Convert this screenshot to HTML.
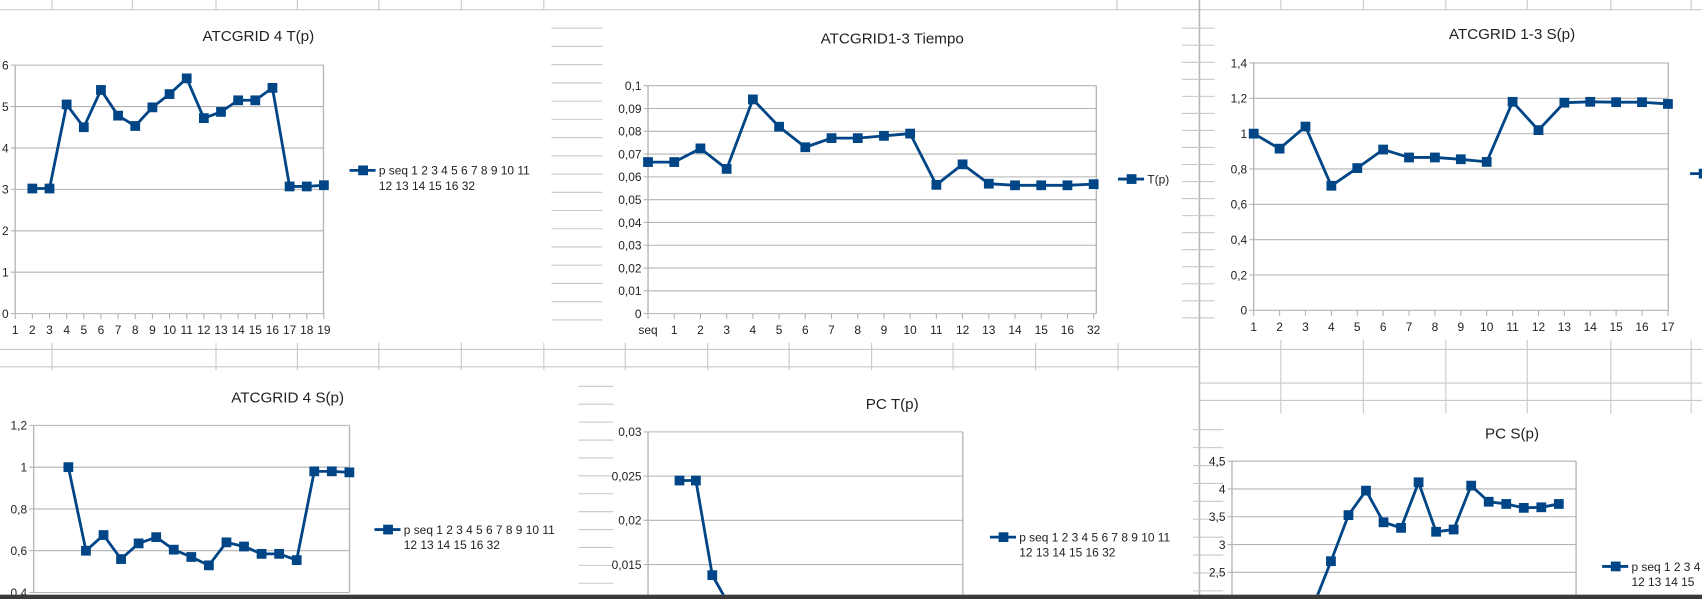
<!DOCTYPE html>
<html><head><meta charset="utf-8"><style>
html,body{margin:0;padding:0;background:#fff;width:1702px;height:599px;overflow:hidden}
svg{display:block}
text{font-family:"Liberation Sans",sans-serif;fill:#222}
</style></head><body>
<svg id="s" width="1702" height="599" viewBox="0 0 1568 552" preserveAspectRatio="none" xmlns="http://www.w3.org/2000/svg">
<defs><clipPath id="clipAll"><rect x="0" y="0" width="1568" height="548"/></clipPath></defs>
<g id="grid"></g>
<g id="charts" clip-path="url(#clipAll)"></g>
<rect x="0" y="548" width="1568" height="4" fill="#3a3a3a"/>
</svg>
<script>
// ---- data ----
const catsA = ['1','2','3','4','5','6','7','8','9','10','11','12','13','14','15','16','17','18','19'];
const valsA = [null,3.02,3.02,5.05,4.5,5.4,4.78,4.53,4.98,5.3,5.68,4.72,4.87,5.15,5.15,5.45,3.07,3.07,3.1];
const ticksA = ['0','1','2','3','4','5','6'];
const catsB = ['seq','1','2','3','4','5','6','7','8','9','10','11','12','13','14','15','16','32'];
const valsB = [0.0665,0.0665,0.0725,0.0635,0.094,0.082,0.073,0.077,0.077,0.078,0.079,0.0565,0.0655,0.057,0.0563,0.0563,0.0563,0.0568];
const ticksB = ['0','0,01','0,02','0,03','0,04','0,05','0,06','0,07','0,08','0,09','0,1'];
const catsC = ['1','2','3','4','5','6','7','8','9','10','11','12','13','14','15','16','17'];
const valsC = [1.0,0.915,1.04,0.705,0.805,0.91,0.865,0.865,0.855,0.84,1.18,1.02,1.175,1.18,1.178,1.178,1.168];
const ticksC = ['0','0,2','0,4','0,6','0,8','1','1,2','1,4'];
const valsD = [1.0,0.6,0.675,0.56,0.635,0.665,0.605,0.57,0.53,0.64,0.62,0.585,0.585,0.555,0.98,0.98,0.975];
const ticksD = ['0,4','0,6','0,8','1','1,2'];
const valsE = [0.0245,0.0245,0.0138,0.0105,0.0099,0.0092,0.009,0.009,0.009,0.009,0.009,0.0101,0.009,0.009];
const ticksE = ['0,01','0,015','0,02','0,025','0,03'];
const valsF = [1.9,2.7,3.53,3.97,3.4,3.3,4.12,3.23,3.27,4.06,3.77,3.73,3.66,3.67,3.73];
const ticksF = ['2','2,5','3','3,5','4','4,5'];

const NS='http://www.w3.org/2000/svg';
function mk(p,tag,a){const e=document.createElementNS(NS,tag);for(const k in a)e.setAttribute(k,a[k]);p.appendChild(e);return e;}
const grid=document.getElementById('grid');
function ln(x1,y1,x2,y2,c,w){const l=mk(grid,'line',{x1,y1,x2,y2,stroke:c||'#c8c8c8','stroke-width':w||1});

}
// sheet grid
ln(0,9,1568,9);
[48,122,199,274,349,425,501].forEach(x=>ln(x,0,x,9));
[1029,1180,1256,1332,1407,1484,1558].forEach(x=>ln(x,0,x,9));
ln(1105,0,1105,552,'#b8b8b8',1.5);
for(let y=26;y<300;y+=16.8){ln(508,y,555,y);}
for(let y=26;y<300;y+=15.7){ln(1089,y,1119,y);}
ln(0,322,1568,322);ln(0,338,1105,338);ln(1105,353,1568,353);ln(1105,369,1568,369);
[48,199,274,349,425,501,576,652,727,803,878,954,1030].forEach(x=>ln(x,316,x,341));
[1180,1256,1332,1407,1484,1558].forEach(x=>ln(x,313,x,381));
for(let y=356;y<548;y+=16.5){ln(533,y,565,y);}
for(let y=396;y<548;y+=16.5){ln(1099,y,1127,y);}

const charts=document.getElementById('charts');
function chart(o){
  const g=mk(charts,'g',{});
  
  
  const yS=v=>o.y0+(v-o.v0)*(o.y1-o.y0)/(o.v1-o.v0);
  const xS=i=>o.x0+i*o.step;
  const t=mk(g,'text',{x:o.tx,y:o.ty,'font-size':14,'text-anchor':'middle'});t.textContent=o.title;
  
  
  o.ticks.forEach((tk,i)=>{
    const v=o.v0+i*o.tstep; const y=yS(v);
    const gl=mk(g,'line',{x1:o.left-4,y1:y,x2:o.right,y2:y,stroke:'#b3b3b3','stroke-width':1});
    
    
    const tt=mk(g,'text',{x:o.left-6,y:y+4,'font-size':11,'text-anchor':'end'});tt.textContent=tk;
    
    
  });
  const top=yS(o.v0+(o.ticks.length-1)*o.tstep), bot=yS(o.v0);
  const ax=mk(g,'line',{x1:o.left,y1:top,x2:o.left,y2:Math.min(bot,560),stroke:'#b3b3b3','stroke-width':1.2});
  
  
  const ar=mk(g,'line',{x1:o.right,y1:top,x2:o.right,y2:Math.min(bot,560),stroke:'#b3b3b3','stroke-width':1.2});
  
  
  if(o.cats){
    o.cats.forEach((c,i)=>{
      const x=xS(i);
      const tl=mk(g,'line',{x1:x,y1:bot,x2:x,y2:bot+5,stroke:'#b3b3b3'});
      
      
      const tt=mk(g,'text',{x:x,y:bot+19,'font-size':11,'text-anchor':'middle'});tt.textContent=c;
      
      
    });
  }
  let d='';
  o.vals.forEach((v,i)=>{if(v==null)return;d+=(d?'L':'M')+xS(i).toFixed(1)+','+yS(v).toFixed(1);});
  const p=mk(g,'path',{d,fill:'none',stroke:'#004586','stroke-width':2.6,'stroke-linejoin':'round'});
  
  
  o.vals.forEach((v,i)=>{if(v==null)return;
    const r=mk(g,'rect',{x:xS(i)-4.5,y:yS(v)-4.5,width:9,height:9,fill:'#004586'});
    
    
  });
  const lg=mk(g,'g',{});
  
  
  mk(lg,'line',{x1:o.lx,y1:o.ly,x2:o.lx+24,y2:o.ly,stroke:'#004586','stroke-width':2.6});
  mk(lg,'rect',{x:o.lx+8,y:o.ly-4.5,width:9,height:9,fill:'#004586'});
  o.legend.forEach((s,i)=>{const tt=mk(lg,'text',{x:o.lx+27,y:o.ly+4+i*14,'font-size':11});tt.textContent=s;});
}
const LG=['p seq 1 2 3 4 5 6 7 8 9 10 11','12 13 14 15 16 32'];
chart({name:'chart-atcgrid4-tp',title:'ATCGRID 4 T(p)',tx:238,ty:38,cats:catsA,vals:valsA,ticks:ticksA,
  v0:0,v1:6,y0:289,y1:60,tstep:1,x0:14,step:15.8,left:14,right:298,lx:322,ly:157,legend:LG});
chart({name:'chart-atcgrid13-tiempo',title:'ATCGRID1-3 Tiempo',tx:822,ty:40,cats:catsB,vals:valsB,ticks:ticksB,
  v0:0,v1:0.1,y0:289,y1:79,tstep:0.01,x0:597,step:24.15,left:597,right:1010,lx:1030,ly:165,legend:['T(p)']});
chart({name:'chart-atcgrid13-sp',title:'ATCGRID 1-3 S(p)',tx:1393,ty:36,cats:catsC,vals:valsC,ticks:ticksC,
  v0:0,v1:1.4,y0:286,y1:58,tstep:0.2,x0:1155,step:23.85,left:1155,right:1537,lx:1557,ly:160,legend:['']});
chart({name:'chart-atcgrid4-sp',title:'ATCGRID 4 S(p)',tx:265,ty:371,cats:null,vals:valsD,ticks:ticksD,
  v0:0.4,v1:1.2,y0:546,y1:392,tstep:0.2,x0:63,step:16.18,left:31,right:322,lx:345,ly:488,legend:LG});
chart({name:'chart-pc-tp',title:'PC T(p)',tx:822,ty:377,cats:null,vals:valsE,ticks:ticksE,
  v0:0.01,v1:0.03,y0:561,y1:398,tstep:0.005,x0:626,step:15.1,left:597,right:887,lx:912,ly:495,legend:LG});
chart({name:'chart-pc-sp',title:'PC S(p)',tx:1393,ty:404,cats:null,vals:valsF,ticks:ticksF,
  v0:2,v1:4.5,y0:553,y1:425,tstep:0.5,x0:1210,step:16.15,left:1135,right:1452,lx:1476,ly:522,legend:['p seq 1 2 3 4','12 13 14 15']});
</script>
</body></html>
